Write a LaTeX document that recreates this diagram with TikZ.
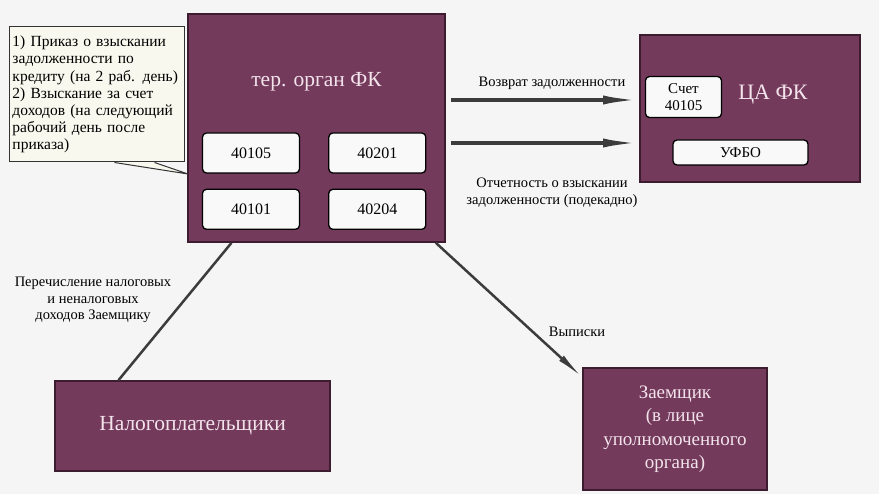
\documentclass[tikz,border=0pt]{standalone}
\usepackage{fontspec}
\setmainfont{Liberation Serif}
\usetikzlibrary{arrows.meta, positioning, calc}
\definecolor{OrganPlum}{HTML}{733A5C}
\definecolor{OrganEdge}{HTML}{3E1C2F}
\definecolor{OrganText}{HTML}{F3E3EB}
\definecolor{NoteFill}{HTML}{F8F8EE}
\definecolor{PageGrey}{HTML}{F6F5F5}
\definecolor{ArrowGrey}{HTML}{3C3C3C}

\begin{document}
\begin{tikzpicture}[x=1pt, y=-1pt, >=Latex,
        organbox/.style={rectangle, draw=OrganEdge, line width=1.6pt, fill=OrganPlum, text=OrganText, align=center, inner sep=0pt},
        acctbox/.style={rectangle, draw=black, line width=1.3pt, fill=white!95!gray, rounded corners=4pt, align=center, inner sep=0pt, font=\fontsize{16}{18}\selectfont},
        flowlabel/.style={align=center, font=\fontsize{14.5}{16.5}\selectfont},
        flatarrow/.style={-{Latex[length=36pt,width=9pt]}, line width=3.5pt, ArrowGrey},
        slimarrow/.style={-{Latex[length=28pt,width=7pt]}, line width=2.5pt, ArrowGrey}]

    \useasboundingbox[fill=PageGrey] (0,0) rectangle (879,494);

    % main organ and its accounts
    \node[organbox, minimum width=257pt, minimum height=228pt] (ter) at (316.5,128) {};
    \node[text=OrganText, font=\fontsize{21.5}{24}\selectfont] (tertitle) at (316.5,82) {тер. орган ФК};
    \node[acctbox, minimum width=97pt, minimum height=40pt] (a40105) at (251,153) {40105};
    \node[acctbox, minimum width=97pt, minimum height=40pt, right=28pt of a40105] (a40201) {40201};
    \node[acctbox, minimum width=97pt, minimum height=40pt, below=15pt of a40105] (a40101) {40101};
    \node[acctbox, minimum width=97pt, minimum height=40pt, below=15pt of a40201] (a40204) {40204};

    % callout
    \node[rectangle, draw=black!80, line width=1pt, fill=NoteFill, minimum width=175pt, minimum height=135pt, text width=168pt, align=left, inner sep=3.5pt, font=\fontsize{15.5}{17.2}\selectfont] (note) at (96.5,94.5)
        {1) Приказ о взыскании\\ задолженности по\\ кредиту (на 2 раб. день)\\ 2) Взыскание за счет\\ доходов (на следующий\\ рабочий день после\\ приказа)};
    \coordinate (tip) at (188,174);
    \fill[NoteFill] ([xshift=18pt]note.south) -- (tip) -- ([xshift=58pt]note.south) -- cycle;
    \draw[black!80, line width=1pt] ([xshift=18pt]note.south) -- (tip) -- ([xshift=58pt]note.south);

    % central office
    \node[organbox, minimum width=220pt, minimum height=147pt] (ca) at (750,108.5) {};
    \node[text=OrganText, font=\fontsize{22}{24}\selectfont] (catitle) at (773,95) {ЦА ФК};
    \node[acctbox, minimum width=76pt, minimum height=41pt, font=\fontsize{15}{17}\selectfont] (sch) at (683.5,97) {Счет\\40105};
    \node[acctbox, minimum width=135pt, minimum height=25pt, font=\fontsize{15}{17}\selectfont] (ufbo) at (740.5,152.5) {УФБО};

    % taxpayers and borrower
    \node[organbox, minimum width=275pt, minimum height=90pt, font=\fontsize{21.5}{24}\selectfont] (nalog) at (192.5,426) {Налогоплательщики};
    \node[organbox, minimum width=184pt, minimum height=122pt, font=\fontsize{19}{23.5}\selectfont] (zaem) at (675,429) {Заемщик\\(в лице\\уполномоченного\\органа)};

    % flows
    \draw[flatarrow] ([xshift=5pt,yshift=28pt]ter.east) -- ([yshift=28pt]ter.east -| ca.west);
    \draw[flatarrow] ([xshift=5pt,yshift=-15pt]ter.east) -- ([yshift=-15pt]ter.east -| ca.west);
    \draw[line width=2.5pt, ArrowGrey] ([xshift=-74pt]nalog.north) -- ([xshift=-85pt]ter.south);
    \draw[slimarrow] ([xshift=-10pt]ter.south east) -- ([yshift=-10pt]zaem.north west);

    \node[flowlabel] (lreturn) at (552,83) {Возврат задолженности};
    \node[flowlabel] (lreport) at (552,192.5) {Отчетность о взыскании\\задолженности (подекадно)};
    \node[flowlabel] (ltransfer) at (93,300) {Перечисление налоговых\\и неналоговых\\доходов Заемщику};
    \node[flowlabel] (lstatement) at (577,332) {Выписки};
\end{tikzpicture}
\end{document}
